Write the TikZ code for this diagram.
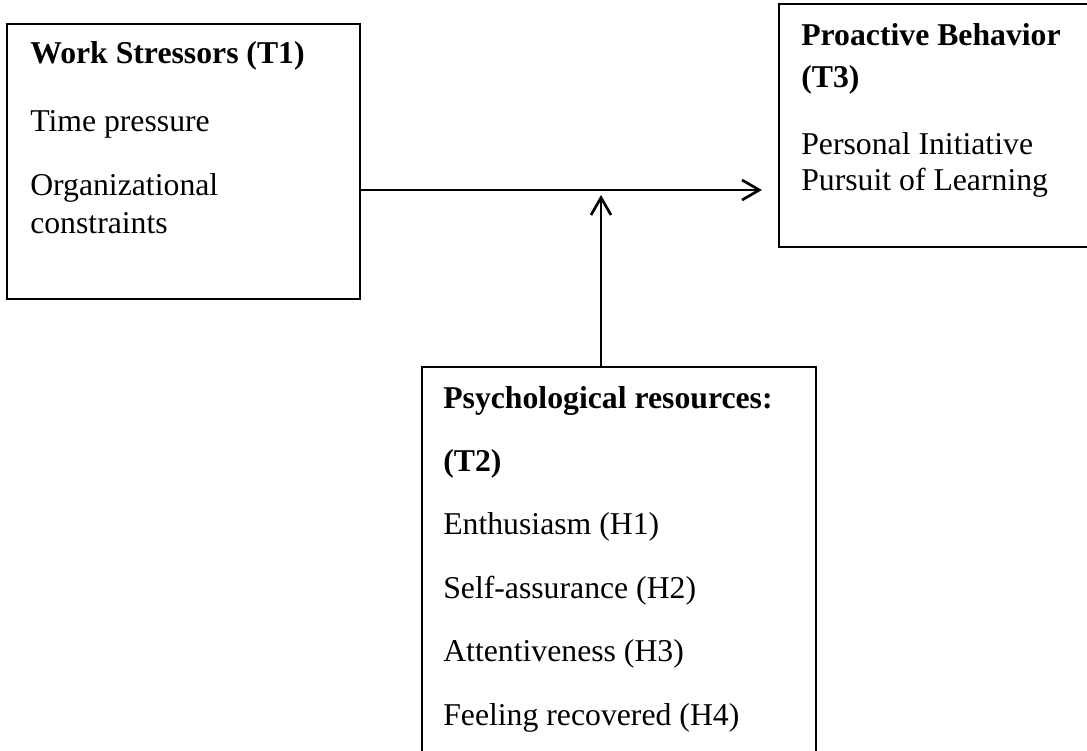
\documentclass[tikz,border=0pt]{standalone}
\usepackage{fontspec}
\setmainfont{Liberation Serif}
\usetikzlibrary{arrows.meta}
\begin{document}
\begin{tikzpicture}[x=0.75pt,y=-0.75pt,
  box/.style={draw=black,line width=2pt,inner sep=0pt,fill=none},
  lbl/.style={anchor=base west,inner sep=0pt,font=\fontsize{23.8}{27}\selectfont},
  hd/.style={lbl,font=\fontsize{23.8}{27}\selectfont\bfseries},
  arr/.style={draw=black,line width=2pt,-{Straight Barb[length=13pt,width=15pt,line width=2pt]}}]
\useasboundingbox (0,0) rectangle (1087,750);
% boxes
\node[box,minimum width=264.75pt,minimum height=206.25pt] (b1) at (183.5,161.5) {};
\node[box,minimum width=240.75pt,minimum height=182.25pt] (b2) at (939.5,125.5) {};
\node[box,minimum width=295.5pt,minimum height=302.25pt] (b3) at (619,568.5) {};
% texts box 1
\node[hd] (t1a) at (30,63) {Work Stressors (T1)};
\node[lbl] (t1b) at (30,131) {Time pressure};
\node[lbl] (t1c) at (30,195) {Organizational};
\node[lbl] (t1d) at (30,233) {constraints};
% texts box 2
\node[hd] (t2a) at (801,45) {Proactive Behavior};
\node[hd] (t2b) at (801,87) {(T3)};
\node[lbl] (t2c) at (801,154) {Personal Initiative};
\node[lbl] (t2d) at (801,190) {Pursuit of Learning};
% texts box 3
\node[hd] (t3a) at (443,408) {Psychological resources:};
\node[hd] (t3b) at (443,471) {(T2)};
\node[lbl] (t3c) at (443,534) {Enthusiasm (H1)};
\node[lbl] (t3d) at (443,598) {Self-assurance (H2)};
\node[lbl] (t3e) at (443,661) {Attentiveness (H3)};
\node[lbl] (t3f) at (443,725) {Feeling recovered (H4)};
% connectors
\coordinate (hend) at (762,190);
\coordinate (vend) at (601,195);
\draw[arr] (b1.east |- hend) -- (hend);
\draw[arr] (b3.north -| vend) -- (vend);
\end{tikzpicture}
\end{document}
